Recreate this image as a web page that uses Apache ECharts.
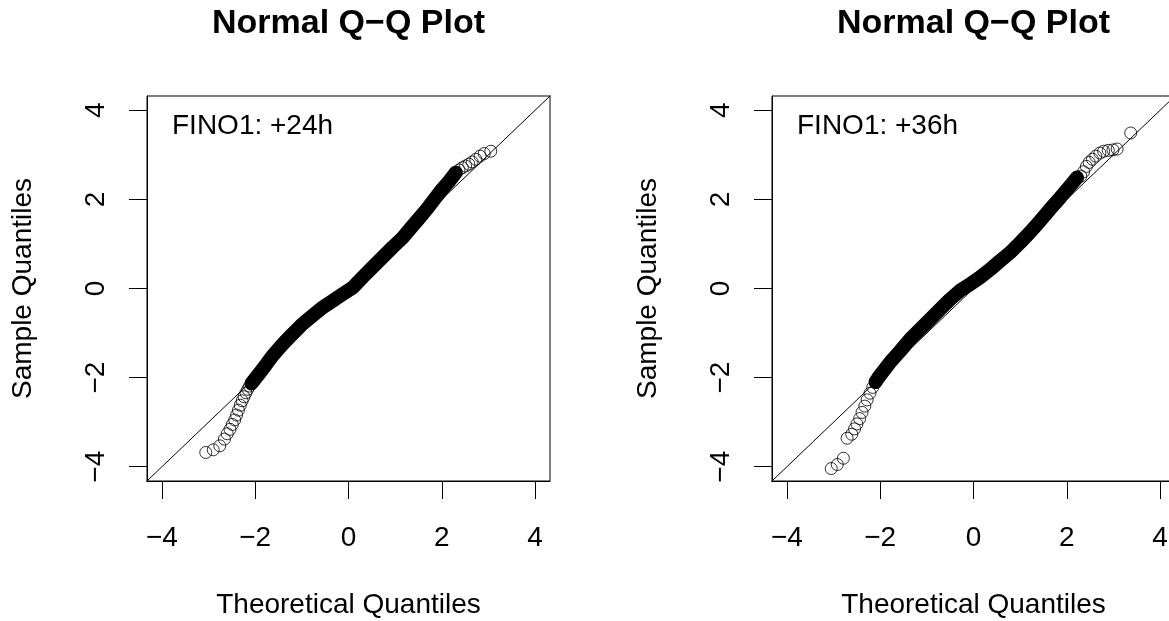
<!DOCTYPE html>
<html>
<head>
<meta charset="utf-8">
<title>Normal Q-Q Plot</title>
<script src="https://cdn.jsdelivr.net/npm/echarts@6/dist/echarts.min.js"></script>
<style>
    html, body { margin: 0; padding: 0; background: #fff; }
    #chart { width: 1169px; height: 621px; }
</style>
</head>
<body>
<div id="chart"></div>
<script type="text/javascript">
    // axis range / ticks shared by both panels
    var axisMin = -4.32, axisMax = 4.32;
    var tickValues = [-4, -2, 0, 2, 4];
    var refLine = [-5, 5];

    var panelTitles = ['Normal Q\u2212Q Plot', 'Normal Q\u2212Q Plot'];
    var panelLabels = ['FINO1: +24h', 'FINO1: +36h'];

    // FINO1 +24h : theoretical quantile / sample quantile
    var theo24 = [-3.06, -2.90, -2.76, -2.66, -2.60, -2.54, -2.49, -2.44, -2.40, -2.36, -2.32, -2.28,
        -2.24, -2.20, -2.16, -2.12, -2.08, -2.02, -1.84, -1.63, -1.41, -1.20, -0.99, -0.77, -0.56,
        -0.34, -0.13, 0.09, 0.30, 0.51, 0.73, 0.94, 1.16, 1.37, 1.59, 1.73, 1.87, 2.01, 2.16, 2.30,
        2.37, 2.44, 2.51, 2.58, 2.65, 2.73, 2.82, 2.91, 3.05];
    var samp24 = [-3.68, -3.62, -3.53, -3.38, -3.26, -3.16, -3.05, -2.95, -2.84, -2.73, -2.62, -2.52,
        -2.43, -2.34, -2.26, -2.19, -2.13, -2.05, -1.81, -1.51, -1.25, -1.02, -0.80, -0.61, -0.43,
        -0.28, -0.13, 0.02, 0.25, 0.47, 0.70, 0.92, 1.14, 1.40, 1.67, 1.85, 2.04, 2.23, 2.41, 2.60,
        2.66, 2.71, 2.75, 2.79, 2.84, 2.90, 2.97, 3.03, 3.08];
    var dense24 = [-2.08, 2.30];

    // FINO1 +36h
    var theo36 = [-3.05, -2.92, -2.79, -2.71, -2.61, -2.55, -2.50, -2.44, -2.39, -2.33, -2.28, -2.22,
        -2.16, -2.10, -2.04, -1.79, -1.57, -1.36, -1.14, -0.93, -0.71, -0.50, -0.29, -0.07, 0.14,
        0.36, 0.57, 0.79, 1.00, 1.21, 1.43, 1.64, 1.86, 2.07, 2.22, 2.30, 2.36, 2.42, 2.48, 2.55,
        2.62, 2.71, 2.79, 2.89, 2.99, 3.08, 3.37];
    var samp36 = [-4.04, -3.95, -3.81, -3.36, -3.27, -3.15, -3.04, -2.92, -2.78, -2.64, -2.50, -2.35,
        -2.22, -2.10, -2.00, -1.66, -1.40, -1.14, -0.91, -0.69, -0.46, -0.24, -0.05, 0.10, 0.25,
        0.43, 0.62, 0.81, 1.03, 1.26, 1.52, 1.78, 2.04, 2.30, 2.49, 2.52, 2.62, 2.74, 2.83, 2.90,
        2.97, 3.04, 3.08, 3.10, 3.11, 3.13, 3.49];
    var dense36 = [-2.10, 2.22];

    var fontFamily = "'Liberation Sans', Arial, sans-serif";
    var panels = [
        {theo: theo24, samp: samp24, dense: dense24, left: 147},
        {theo: theo36, samp: samp36, dense: dense36, left: 772}
    ];

    function minusSign(v) {
        return String(v).replace('-', '\u2212');
    }

    var grids = [], xAxes = [], yAxes = [], series = [], graphics = [];
    panels.forEach(function (p, i) {
        grids.push({
            left: p.left, top: 96, width: 403, height: 385,
            outerBoundsMode: 'none', containLabel: false,
            show: true, borderColor: '#000', borderWidth: 1, backgroundColor: 'transparent'
        });
        var common = {
            type: 'value', gridIndex: i, min: axisMin, max: axisMax,
            nameLocation: 'middle', nameGap: 110,
            nameTextStyle: {color: '#000', fontSize: 28, fontFamily: fontFamily},
            axisLine: {show: true, onZero: false, lineStyle: {color: '#000', width: 1}},
            axisTick: {show: true, inside: false, length: 18, customValues: tickValues,
                lineStyle: {color: '#000', width: 1}},
            splitLine: {show: false}
        };
        xAxes.push(Object.assign({}, common, {
            name: 'Theoretical Quantiles',
            axisLabel: {customValues: tickValues, margin: 43, color: '#000', fontSize: 28,
                fontFamily: fontFamily, formatter: minusSign}
        }));
        yAxes.push(Object.assign({}, common, {
            name: 'Sample Quantiles', nameRotate: 90,
            axisLabel: {customValues: tickValues, margin: 37, rotate: 90, color: '#000', fontSize: 28,
                fontFamily: fontFamily, formatter: minusSign}
        }));

        var pts = p.theo.map(function (t, k) { return [t, p.samp[k]]; });
        var densePts = pts.filter(function (d) { return d[0] >= p.dense[0] && d[0] <= p.dense[1]; });

        // solid band where the circles pile up
        series.push({
            type: 'line', xAxisIndex: i, yAxisIndex: i, data: densePts,
            symbol: 'none', lineStyle: {color: '#000', width: 14, cap: 'round', join: 'round'},
            silent: true, z: 2
        });
        // open circles (pch = 1)
        series.push({
            type: 'scatter', xAxisIndex: i, yAxisIndex: i, data: pts,
            symbol: 'circle', symbolSize: 12,
            itemStyle: {color: 'transparent', borderColor: '#000', borderWidth: 1},
            silent: true, z: 3
        });
        // y = x reference line
        series.push({
            type: 'line', xAxisIndex: i, yAxisIndex: i, clip: true,
            data: [[refLine[0], refLine[0]], [refLine[1], refLine[1]]],
            symbol: 'none', lineStyle: {color: '#000', width: 1}, silent: true, z: 4
        });

        graphics.push({
            type: 'text', x: p.left + 201.5, y: 24,
            style: {text: panelTitles[i], fill: '#000', font: 'bold 34px ' + fontFamily,
                textAlign: 'center', textVerticalAlign: 'middle'}
        });
        graphics.push({
            type: 'text', x: p.left + 25, y: 126,
            style: {text: panelLabels[i], fill: '#000', font: '28px ' + fontFamily,
                textAlign: 'left', textVerticalAlign: 'middle'}
        });
    });

    var myChart = echarts.init(document.getElementById('chart'));
    myChart.setOption({
        animation: false,
        backgroundColor: '#fff',
        grid: grids,
        xAxis: xAxes,
        yAxis: yAxes,
        series: series,
        graphic: graphics
    });
</script>
</body>
</html>
